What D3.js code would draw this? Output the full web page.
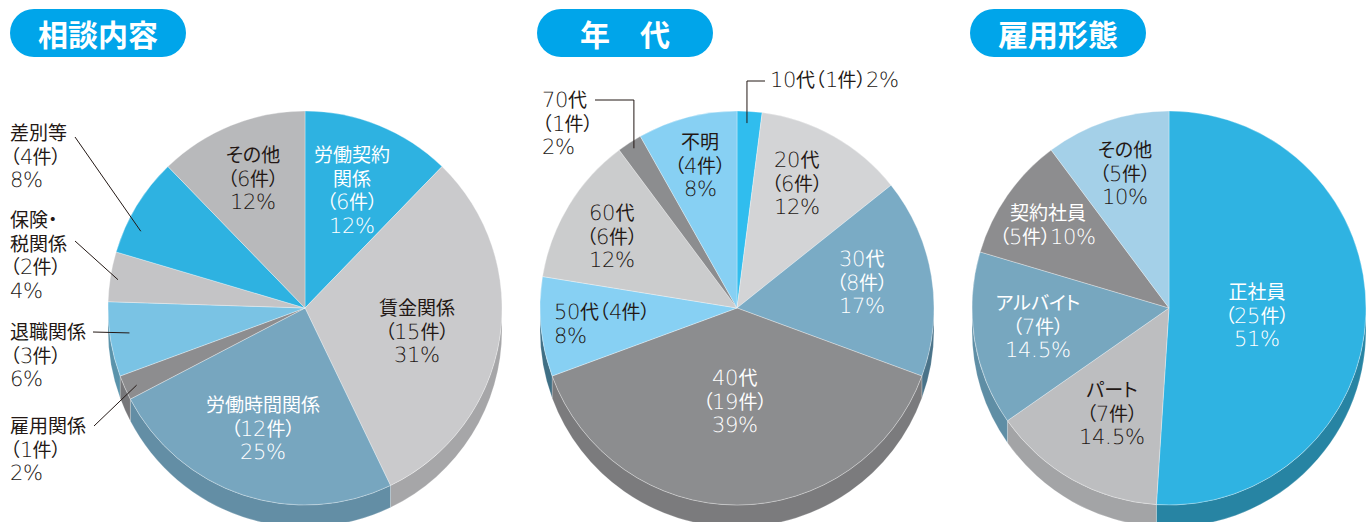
<!DOCTYPE html>
<html>
<head>
<meta charset="utf-8">
<script src="https://cdn.jsdelivr.net/npm/d3@7"></script>
<style>
  @font-face {
    font-family: "LblNum";
    src: local("DejaVu Sans ExtraLight"), local("DejaVuSans-ExtraLight");
    unicode-range: U+0020-007F;
    size-adjust: 108%;
  }
  html, body { margin: 0; padding: 0; background: #fff; }
  svg { display: block; }
  text { font-family: "Noto Sans CJK JP", "Noto Sans", sans-serif; }
  text.lbl {
    font-family: "LblNum", "Noto Sans CJK JP", sans-serif;
    font-weight: 400;
    font-feature-settings: "palt";
  }
</style>
</head>
<body>
<svg id="chart" width="1368" height="522"></svg>
<script>
// ---- data ----
const titles = ['相談内容', '年　代', '雇用形態']

const consultCategories = ['労働契約関係', '賃金関係', '労働時間関係', '雇用関係', '退職関係', '保険・税関係', '差別等', 'その他']
const consultCounts = [6, 15, 12, 1, 3, 2, 4, 6]
const consultPercents = ['12%', '31%', '25%', '2%', '6%', '4%', '8%', '12%']

const ageCategories = ['10代', '20代', '30代', '40代', '50代', '60代', '70代', '不明']
const ageCounts = [1, 6, 8, 19, 4, 6, 1, 4]
const agePercents = ['2%', '12%', '17%', '39%', '8%', '12%', '2%', '8%']

const employCategories = ['正社員', 'パート', 'アルバイト', '契約社員', 'その他']
const employCounts = [25, 7, 7, 5, 5]
const employPercents = ['51%', '14.5%', '14.5%', '10%', '10%']

// ---- style ----
const R = 197, depth = 22, lh = 23.5
const dark = '#231815'
const cnt = (c) => `（${c}件）`

const charts = [
  {
    cx: 305, cy: 308, pillX: 10,
    cats: consultCategories, counts: consultCounts, pcts: consultPercents,
    colors: ['#2eb2e1', '#cacacc', '#77a6bf', '#8d8d8f', '#7ac3e4', '#c4c4c6', '#2eb2e1', '#b8b9bb'],
    sides: ['#2784a3', '#a6a6a8', '#638ea5', '#77777a', '#5a93ab', '#a3a3a5', '#2784a3', '#9a9a9c'],
    labels: [
      { x: 352, y: 155, a: 'middle', fill: '#fff', lines: (n, c, p) => ['労働契約', '関係', cnt(c), p] },
      { x: 417, y: 308, a: 'middle', fill: dark, lines: (n, c, p) => [n, cnt(c), p] },
      { x: 263, y: 405, a: 'middle', fill: '#fff', lines: (n, c, p) => [n, cnt(c), p] },
      { x: 10, y: 426, a: 'start', fill: dark, lines: (n, c, p) => [n, cnt(c), p],
        leader: { from: [94, 426], t: 0.4, rr: 0.94 } },
      { x: 10, y: 332, a: 'start', fill: dark, lines: (n, c, p) => [n, cnt(c), p],
        leader: { from: [93, 332], t: 0.55, rr: 0.9 } },
      { x: 10, y: 220, a: 'start', fill: dark, lines: (n, c, p) => ['保険・', '税関係', cnt(c), p],
        leader: { from: [75, 241], t: 0.46, rr: 0.96 } },
      { x: 10, y: 133, a: 'start', fill: dark, lines: (n, c, p) => [n, cnt(c), p],
        leader: { from: [75, 137], t: 0.29, rr: 0.92 } },
      { x: 253, y: 155, a: 'middle', fill: dark, lines: (n, c, p) => [n, cnt(c), p] }
    ]
  },
  {
    cx: 737, cy: 308, pillX: 537,
    cats: ageCategories, counts: ageCounts, pcts: agePercents,
    colors: ['#30bdee', '#d3d4d6', '#7aabc5', '#8c8d8f', '#87d0f3', '#cbcccd', '#8c8d8f', '#87d0f3'],
    sides: ['#2790b8', '#aeafb1', '#4a7389', '#7b7b7d', '#3f6f85', '#a8a8aa', '#77777a', '#5f9fbd'],
    labels: [
      { x: 770, y: 80, a: 'start', fill: dark, lines: (n, c, p) => [n + cnt(c) + p],
        leader: { from: [765, 81], t: 0.42, rr: 0.94, elbow: true } },
      { x: 797, y: 160, a: 'middle', fill: dark, lines: (n, c, p) => [n, cnt(c), p] },
      { x: 862, y: 259, a: 'middle', fill: '#fff', lines: (n, c, p) => [n, cnt(c), p] },
      { x: 735, y: 378, a: 'middle', fill: '#fff', lines: (n, c, p) => [n, cnt(c), p] },
      { x: 554, y: 312, a: 'start', fill: dark, lines: (n, c, p) => [n + cnt(c), p] },
      { x: 612, y: 213, a: 'middle', fill: dark, lines: (n, c, p) => [n, cnt(c), p] },
      { x: 542, y: 100, a: 'start', fill: dark, lines: (n, c, p) => [n, cnt(c), p],
        leader: { from: [595, 100], t: 0.53, rr: 0.965, elbow: true } },
      { x: 700, y: 142, a: 'middle', fill: dark, lines: (n, c, p) => [n, cnt(c), p] }
    ]
  },
  {
    cx: 1169, cy: 308, pillX: 970,
    cats: employCategories, counts: employCounts, pcts: employPercents,
    colors: ['#2fb3e2', '#bdbec0', '#77a7bf', '#8d8d8f', '#a4d0e8'],
    sides: ['#2784a3', '#a3a4a6', '#5f8ea5', '#77777a', '#86b3cc'],
    labels: [
      { x: 1257, y: 292, a: 'middle', fill: '#fff', lines: (n, c, p) => [n, cnt(c), p] },
      { x: 1112, y: 390, a: 'middle', fill: dark, lines: (n, c, p) => [n, cnt(c), p] },
      { x: 1038, y: 303, a: 'middle', fill: '#fff', lines: (n, c, p) => [n, cnt(c), p] },
      { x: 1048, y: 213, a: 'middle', fill: '#fff', lines: (n, c, p) => [n, cnt(c) + p] },
      { x: 1125, y: 150, a: 'middle', fill: dark, lines: (n, c, p) => [n, cnt(c), p] }
    ]
  }
]

const svg = d3.select('#chart')
const pie = d3.pie().sort(null).value((d) => d)
const arc = d3.arc().innerRadius(0).outerRadius(R)

// point on the top face at a pie angle (clockwise from 12 o'clock)
const pt = (cx, cy, a, r) => [cx + r * Math.sin(a), cy - r * Math.cos(a)]

charts.forEach((ch, k) => {
  const arcs = pie(ch.counts)
  const g = svg.append('g')

  // 側面 (visible between 3 and 9 o'clock)
  arcs.forEach((d, i) => {
    const a0 = Math.max(d.startAngle, Math.PI / 2)
    const a1 = Math.min(d.endAngle, Math.PI * 3 / 2)
    if (a0 >= a1) return
    const p = d3.path()
    p.arc(ch.cx, ch.cy, R, a0 - Math.PI / 2, a1 - Math.PI / 2, false)
    p.arc(ch.cx, ch.cy + depth, R, a1 - Math.PI / 2, a0 - Math.PI / 2, true)
    p.closePath()
    g.append('path')
      .attr('d', p.toString())
      .attr('fill', ch.sides[i])
      .attr('stroke', 'rgba(255,255,255,0.35)')
      .attr('stroke-width', 0.6)
  })

  // 上面
  g.selectAll('.slice')
    .data(arcs)
    .enter()
    .append('path')
    .attr('class', 'slice')
    .attr('transform', `translate(${ch.cx},${ch.cy})`)
    .attr('d', arc)
    .attr('fill', (d, i) => ch.colors[i])
    .attr('stroke', 'rgba(255,255,255,0.45)')
    .attr('stroke-width', 0.7)

  // 引出線
  ch.labels.forEach((lb, i) => {
    if (!lb.leader) return
    const d = arcs[i]
    const ang = d.startAngle + (d.endAngle - d.startAngle) * lb.leader.t
    const end = pt(ch.cx, ch.cy, ang, R * lb.leader.rr)
    const pts = lb.leader.elbow
      ? [lb.leader.from, [end[0], lb.leader.from[1]], end]
      : [lb.leader.from, end]
    g.append('path')
      .attr('d', d3.line()(pts))
      .attr('fill', 'none')
      .attr('stroke', dark)
      .attr('stroke-width', 1)
  })

  // ラベル
  ch.labels.forEach((lb, i) => {
    const lines = lb.lines(ch.cats[i], ch.counts[i], ch.pcts[i])
    const t = g.append('text')
      .attr('class', 'lbl')
      .attr('text-anchor', lb.a)
      .attr('fill', lb.fill)
      .attr('font-size', 19)
    lines.forEach((s, j) => {
      t.append('tspan')
        .attr('x', lb.x)
        .attr('y', lb.y + j * lh)
        .attr('dominant-baseline', 'central')
        .text(s)
    })
  })

  // タイトル
  svg.append('rect')
    .attr('x', ch.pillX).attr('y', 9)
    .attr('width', 176).attr('height', 48)
    .attr('rx', 24)
    .attr('fill', '#00a5ea')
  svg.append('text')
    .attr('x', ch.pillX + 88).attr('y', 33)
    .attr('text-anchor', 'middle')
    .attr('dominant-baseline', 'central')
    .attr('fill', '#fff')
    .attr('font-size', 30)
    .attr('font-weight', 700)
    .text(titles[k])
})
</script>
</body>
</html>
